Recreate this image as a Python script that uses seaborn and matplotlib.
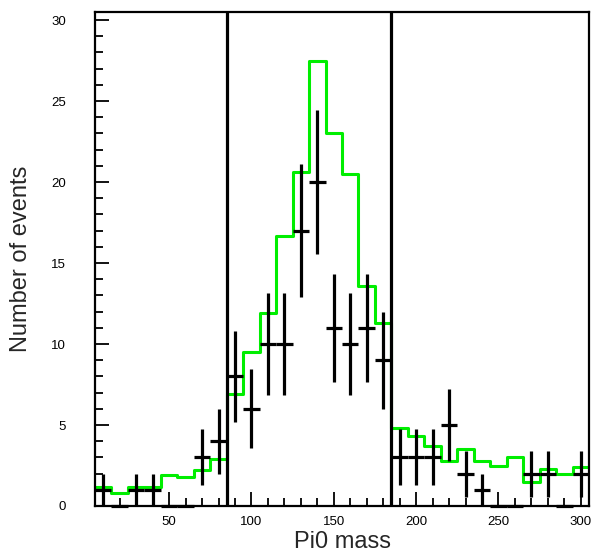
import numpy as np
import matplotlib
matplotlib.use("Agg")
import matplotlib.pyplot as plt
import seaborn as sns
from matplotlib.ticker import MultipleLocator

# bin centres (Pi0 mass), bin width 10
centers = [10, 20, 30, 40, 50, 60, 70, 80, 90, 100, 110, 120, 130, 140, 150,
           160, 170, 180, 190, 200, 210, 220, 230, 240, 250, 260, 270, 280, 290, 300]
# data counts (black crosses)
data_counts = [1, 0, 1, 1, 0, 0, 3, 4, 8, 6, 10, 10, 17, 20, 11,
               10, 11, 9, 3, 3, 3, 5, 2, 1, 0, 0, 2, 2, 0, 2]
# simulation (green histogram)
mc_counts = [1.2, 0.8, 1.2, 1.2, 1.9, 1.8, 2.2, 2.9, 6.9, 9.5, 11.9, 16.7, 20.6, 27.5, 23.0,
             20.5, 13.6, 11.3, 4.8, 4.3, 3.7, 2.8, 3.5, 2.8, 2.5, 3.0, 1.5, 2.3, 2.0, 2.4]
cut_lines = [85, 185]
bin_width = 10

sns.set_style("white")
plt.rcParams['font.family'] = ['Liberation Sans', 'DejaVu Sans']

fig = plt.figure(figsize=(5.94, 5.57), dpi=100)
ax = fig.add_axes([95/594, 1-506/557, 494/594, 494/557])

edges = [c - bin_width/2 for c in centers] + [centers[-1] + bin_width/2]
sns.histplot(x=centers, weights=mc_counts, bins=edges, element="step", fill=False,
             color="#00ee00", linewidth=2.2, ax=ax)

yerr = np.sqrt(np.array(data_counts, dtype=float))
eb = ax.errorbar(centers, data_counts, xerr=bin_width/2, yerr=yerr, fmt='none',
                 ecolor='black', elinewidth=2.3, capsize=0, zorder=5)
for coll in eb.lines[2]:
    coll.set_clip_on(False)

for xv in cut_lines:
    ax.axvline(xv, color='black', linewidth=2.3, zorder=6)

ax.set_xlim(5, 305)
ax.set_ylim(0, 30.5)
ax.xaxis.set_major_locator(MultipleLocator(50))
ax.xaxis.set_minor_locator(MultipleLocator(10))
ax.yaxis.set_major_locator(MultipleLocator(5))
ax.yaxis.set_minor_locator(MultipleLocator(1))
ax.tick_params(axis='both', which='both', direction='in', colors='black',
               bottom=True, left=True, top=False, right=False, width=1.3)
ax.tick_params(axis='both', which='major', length=10, labelsize=9.5)
ax.tick_params(axis='both', which='minor', length=5.5)
ax.tick_params(axis='y', which='major', pad=21)
ax.tick_params(axis='x', which='major', pad=7)
ax.set_xticks([50, 100, 150, 200, 250, 300])
ax.set_yticks([0, 5, 10, 15, 20, 25, 30])

for s in ax.spines.values():
    s.set_color('black')
    s.set_linewidth(1.6)

ax.set_xlabel("Pi0 mass", fontsize=17)
ax.set_ylabel("Number of events", fontsize=17)
ax.xaxis.set_label_coords(0.5, -0.05)
ax.yaxis.set_label_coords(-0.128, 0.5)

fig.savefig("out.png", dpi=100)
